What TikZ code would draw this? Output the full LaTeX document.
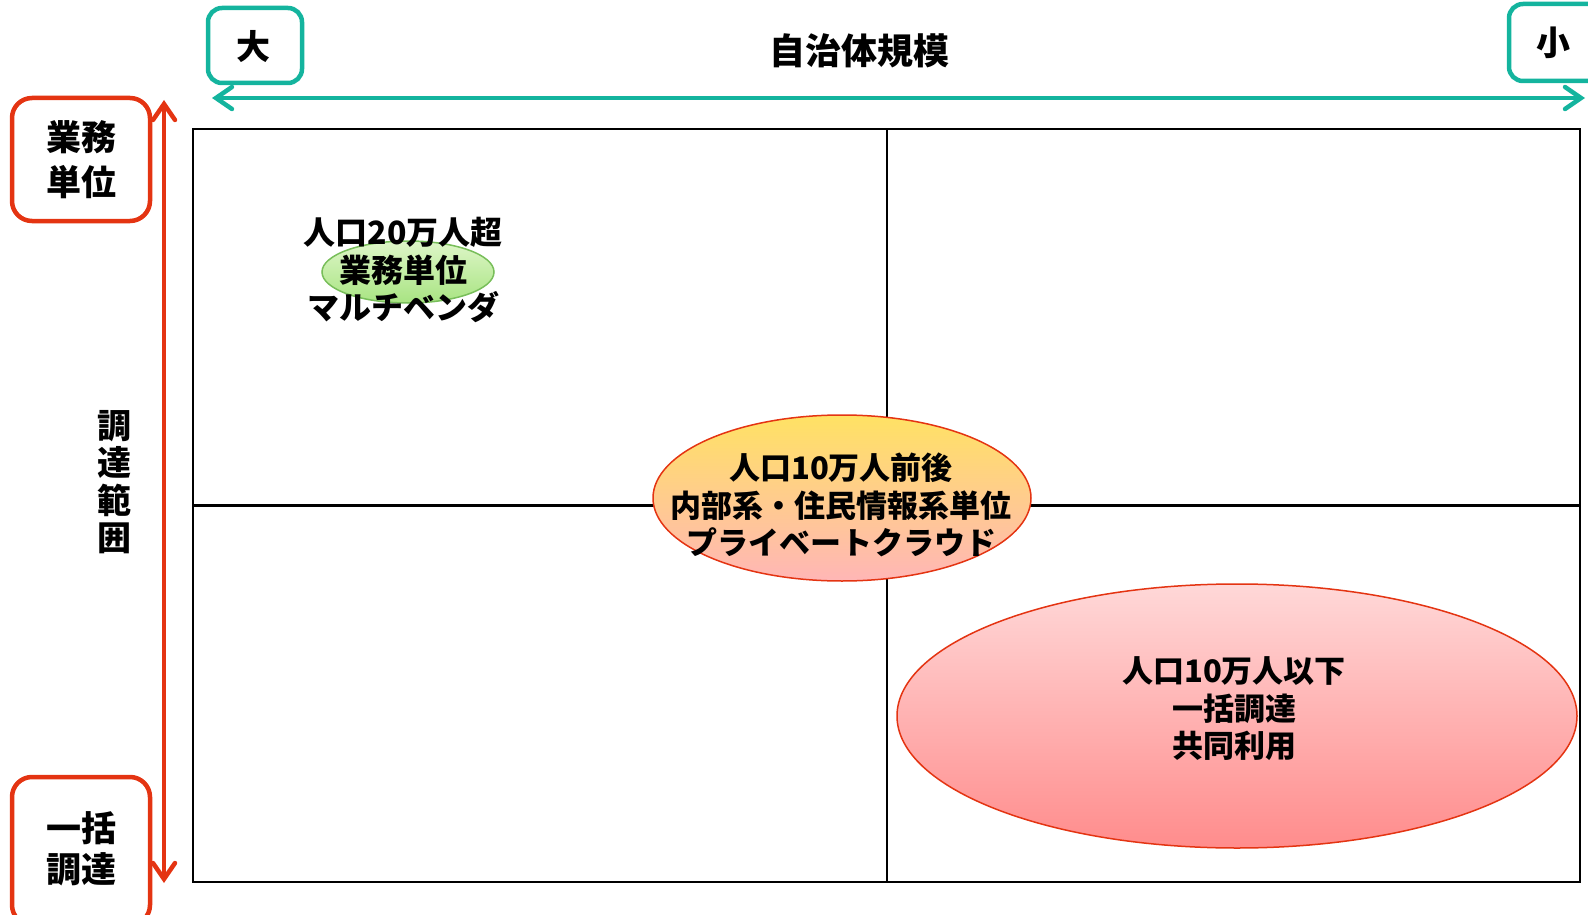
\documentclass[tikz,border=0pt]{standalone}
\usepackage{fontspec}
\setmainfont{Noto Sans CJK JP}
\usetikzlibrary{arrows.meta,shapes.geometric}
\definecolor{teal1}{RGB}{20,180,158}
\definecolor{red1}{RGB}{228,52,18}
\definecolor{ylw}{RGB}{255,226,100}
\definecolor{pnk}{RGB}{255,182,182}
\definecolor{pale}{RGB}{255,216,216}
\definecolor{salmon}{RGB}{255,140,140}
\definecolor{grtop}{RGB}{222,246,200}
\definecolor{grbot}{RGB}{168,228,130}
\definecolor{grline}{RGB}{120,190,90}
\tikzset{
  tealbox/.style={draw=teal1,line width=4.5pt,rounded corners=14pt,inner sep=0pt},
  redbox/.style={draw=red1,line width=4.5pt,rounded corners=20pt,inner sep=0pt},
  lbl/.style={font=\bfseries\fontsize{34}{38}\selectfont,align=center,inner sep=0pt},
  etext/.style={font=\bfseries\fontsize{31}{37.5}\selectfont,align=center,inner sep=0pt},
  tealarrow/.style={draw=teal1,line width=4.5pt,{Straight Barb[length=16pt,width=22pt,line cap=round]}-{Straight Barb[length=16pt,width=22pt,line cap=round]}},
  redarrow/.style={draw=red1,line width=4.5pt,{Straight Barb[length=16pt,width=22pt,line cap=round]}-{Straight Barb[length=16pt,width=22pt,line cap=round]}},
  oval/.style={ellipse,inner sep=0pt,line width=1.5pt}
}
\begin{document}
\begin{tikzpicture}[x=1pt,y=-1pt]
\useasboundingbox (0,0) rectangle (1588,915);
\clip (0,0) rectangle (1588,915);
% boxes
\node[tealbox,minimum width=94pt,minimum height=75pt] (big) at (255,45.5) {};
\node[lbl] (bigt) at (253,47) {大};
\node[tealbox,minimum width=100pt,minimum height=77pt] (small) at (1559,42.5) {};
\node[lbl] (smallt) at (1553,43) {小};
\node[lbl,font=\bfseries\fontsize{36}{38}\selectfont] (title) at (859,51) {自治体規模};
\node[redbox,minimum width=138pt,minimum height=123pt] (gyomu) at (81,159.5) {};
\node[lbl,font=\bfseries\fontsize{35}{45}\selectfont] (gyomut) at (81,160) {業務\\単位};
\node[redbox,minimum width=138pt,minimum height=148pt] (ikkatsu) at (81,851) {};
\node[lbl,font=\bfseries\fontsize{35}{41}\selectfont] (ikkatsut) at (81,849) {一括\\調達};
\node[lbl,font=\bfseries\fontsize{34}{37.5}\selectfont] (range) at (114,482) {調\\達\\範\\囲};
% arrows
\coordinate (tl) at (212,98);
\coordinate (tr) at (1585,98);
\draw[tealarrow] (tl) -- (tr);
\coordinate (rt) at (164,100);
\coordinate (rb) at (164,883);
\draw[redarrow] (rt) -- (rb);
% grid
\coordinate (A) at (193,129);
\coordinate (B) at (1580,882);
\coordinate (mt) at (887,129);
\coordinate (mb) at (887,882);
\coordinate (ml) at (193,505.5);
\coordinate (mr) at (1580,505.5);
\draw[line width=2pt] (A) rectangle (B);
\draw[line width=2pt] (mt) -- (mb);
\draw[line width=3.5pt] (ml) -- (mr);
% ellipses
\node[oval,draw=grline,top color=grtop,bottom color=grbot,minimum width=172pt,minimum height=62pt] (green) at (408,272) {};
\node[etext,font=\bfseries\fontsize{32}{37.5}\selectfont] (greent) at (403,270) {人口20万人超\\業務単位\\マルチベンダ};
\node[oval,draw=red1,top color=ylw,bottom color=pnk,minimum width=378pt,minimum height=166pt] (mid) at (842,498) {};
\node[etext] (midt) at (841,505) {人口10万人前後\\内部系・住民情報系単位\\プライベートクラウド};
\node[oval,draw=red1,top color=pale,bottom color=salmon,minimum width=680pt,minimum height=264pt] (low) at (1237,716) {};
\node[etext] (lowt) at (1234,709) {人口10万人以下\\一括調達\\共同利用};
\end{tikzpicture}
\end{document}
